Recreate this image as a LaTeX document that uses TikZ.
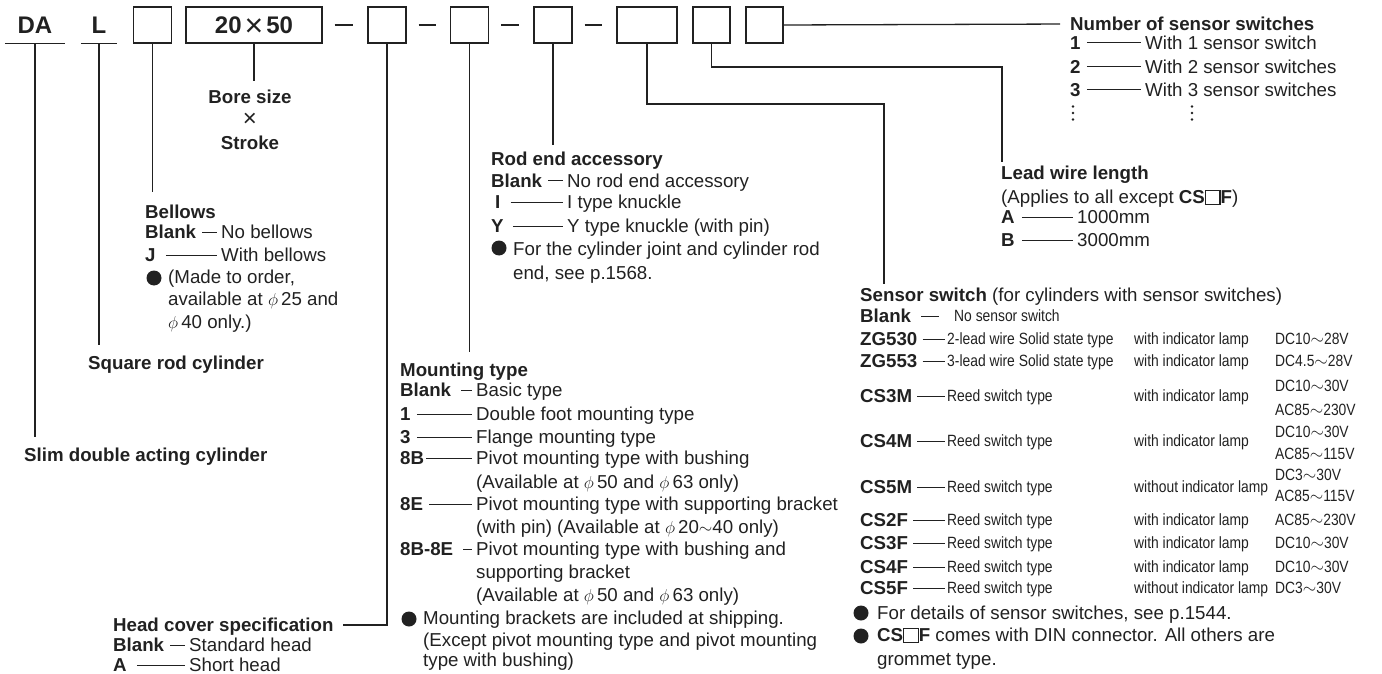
\documentclass[tikz,border=0pt]{standalone}
\usepackage{fontspec}
\setmainfont{Liberation Sans}
\newfontfamily\condfont[FakeStretch=0.85]{Liberation Sans}

\definecolor{ink}{gray}{0.13}
\newcommand\bodysize{\fontsize{18.7}{22.5}\selectfont}
\newcommand\condsize{\fontsize{16.3}{19}\selectfont\condfont}
\newcommand\keysize{\fontsize{24}{28}\selectfont}
\newcommand\dia[1]{$\phi$\,#1}
\newcommand\emptysq{{\setlength\fboxsep{0pt}\setlength\fboxrule{1.1pt}\fbox{\rule{0pt}{0.7em}\hspace{0.72em}}}}

\begin{document}
\begin{tikzpicture}[x=1pt, y=-1pt,
    every node/.style={inner sep=0pt, text=ink},
    lbl/.style={anchor=west, text height=13.4pt, text depth=0pt, font=\bodysize},
    code/.style={lbl, font=\bodysize\bfseries},
    cond/.style={lbl, text height=11.7pt, font=\condsize},
    mid/.style={lbl, anchor=center},
    word/.style={font=\keysize\bfseries, minimum height=36pt},
    slot/.style={draw=ink, line width=1.3pt, minimum width=38pt,
                 minimum height=36pt, font=\keysize\bfseries},
    lead/.style={draw=ink, line width=1.3pt},
    tie/.style={draw=ink, line width=1pt, shorten <=6pt, shorten >=4pt},
    bullet/.style={circle, fill=ink, minimum size=15pt}
  ]
  \useasboundingbox (0,0) rectangle (1382,674);

  % part number
  \node[word, minimum width=60pt] (da) at (35,25) {DA};
  \node[word, minimum width=36pt] (l) at (99,25) {L};
  \node[slot] (bellowsbox) at (152.5,25) {};
  \node[slot, minimum width=136pt] (bore) at (254,25) {20\kern3pt\raisebox{-3pt}[0pt][0pt]{\mdseries\fontsize{32}{32}\selectfont ×}\kern3pt50};
  \node[slot] (headbox) at (387,25) {};
  \node[slot] (mountbox) at (469.5,25) {};
  \node[slot] (rodbox) at (553,25) {};
  \node[slot, minimum width=60pt] (sensorbox) at (647,25) {};
  \node[slot, minimum width=37pt] (wirebox) at (711.5,25) {};
  \node[slot, minimum width=37pt] (countbox) at (764.5,25) {};

  \draw[lead] (da.south west) -- (da.south east);
  \draw[lead] (l.south west) -- (l.south east);
  \draw[lead, line width=1.1pt, shorten <=12pt, shorten >=14pt] (bore.east) -- (headbox.west);
  \draw[lead, line width=1.1pt, shorten <=12pt, shorten >=14pt] (headbox.east) -- (mountbox.west);
  \draw[lead, line width=1.1pt, shorten <=12pt, shorten >=14pt] (mountbox.east) -- (rodbox.west);
  \draw[lead, line width=1.1pt, shorten <=12pt, shorten >=14pt] (rodbox.east) -- (sensorbox.west);

  % bore x stroke
  \node[mid, font=\bodysize\bfseries] (boresize) at (250,97) {Bore size};
  \node[mid, font=\keysize] (times) at (250,120) {×};
  \node[mid, font=\bodysize\bfseries] (stroke) at (250,143) {Stroke};

  \node[code] (slim) at (24,455) {Slim double acting cylinder};
  \node[code] (sqrod) at (88,363) {Square rod cylinder};

  % bellows
  \node[code] (bellows) at (145,212) {Bellows};
  \node[code] (bellblank) at (145,232) {Blank};
  \node[lbl] (bellno) at (221,232) {No bellows};
  \node[code] (bellj) at (145,255) {J};
  \node[lbl] (bellwith) at (221,255) {With bellows};
  \node[bullet] (bellnote) at (154,278) {};
  \node[lbl] (bellnote1) at (168,277) {(Made to order,};
  \node[lbl] (bellnote2) at (168,299) {available at \dia{25} and};
  \node[lbl] (bellnote3) at (168,322) {\dia{40} only.)};
  \draw[tie] (bellblank.east) -- (bellno.west);
  \draw[tie, shorten <=10pt] (bellj.east) -- (bellwith.west);

  % rod end
  \node[code] (rodend) at (491,159) {Rod end accessory};
  \node[code] (rodblank) at (491,181) {Blank};
  \node[lbl] (rodno) at (567,181) {No rod end accessory};
  \node[code] (rodi) at (495,202) {I};
  \node[lbl] (rodit) at (567,202) {I type knuckle};
  \node[code] (rody) at (491,226) {Y};
  \node[lbl] (rodyt) at (567,226) {Y type knuckle (with pin)};
  \node[bullet] (rodnote) at (499,248) {};
  \node[lbl] (rodnote1) at (513,249) {For the cylinder joint and cylinder rod};
  \node[lbl] (rodnote2) at (513,273) {end, see p.1568.};
  \draw[tie] (rodblank.east) -- (rodno.west);
  \draw[tie, shorten <=10pt] (rodi.east) -- (rodit.west);
  \draw[tie, shorten <=9pt] (rody.east) -- (rodyt.west);

  % mounting
  \node[code] (mount) at (400,370) {Mounting type};
  \node[code] (mblank) at (400,390) {Blank};
  \node[lbl] (mbasic) at (476,390) {Basic type};
  \node[code] (m1) at (400,414) {1};
  \node[lbl] (mfoot) at (476,414) {Double foot mounting type};
  \node[code] (m3) at (400,437) {3};
  \node[lbl] (mflange) at (476,437) {Flange mounting type};
  \node[code] (m8b) at (400,458) {8B};
  \node[lbl] (mpivb) at (476,458) {Pivot mounting type with bushing};
  \node[lbl] (mpivb2) at (476,482) {(Available at \dia{50} and \dia{63} only)};
  \node[code] (m8e) at (400,504) {8E};
  \node[lbl] (mpive) at (476,504) {Pivot mounting type with supporting bracket};
  \node[lbl] (mpive2) at (476,527) {(with pin) (Available at \dia{20}$\sim$40 only)};
  \node[code] (m8be) at (400,549) {8B-8E};
  \node[lbl] (mpivbe) at (476,549) {Pivot mounting type with bushing and};
  \node[lbl] (mpivbe2) at (476,572) {supporting bracket};
  \node[lbl] (mpivbe3) at (476,595) {(Available at \dia{50} and \dia{63} only)};
  \node[bullet] (mnote) at (409,619) {};
  \node[lbl] (mnote1) at (423,618) {Mounting brackets are included at shipping.};
  \node[lbl] (mnote2) at (423,640) {(Except pivot mounting type and pivot mounting};
  \node[lbl] (mnote3) at (423,660) {type with bushing)};
  \draw[tie, shorten <=10pt] (mblank.east) -- (mbasic.west);
  \draw[tie] (m1.east) -- (mfoot.west);
  \draw[tie] (m3.east) -- (mflange.west);
  \draw[tie, shorten <=2pt] (m8b.east) -- (mpivb.west);
  \draw[tie] (m8e.east) -- (mpive.west);
  \draw[tie, shorten <=10pt] (m8be.east) -- (mpivbe.west);

  % head cover
  \node[code] (headcover) at (113,625) {Head cover specification};
  \node[code] (headblank) at (113,645) {Blank};
  \node[lbl] (headstd) at (189,645) {Standard head};
  \node[code] (heada) at (113,665) {A};
  \node[lbl] (headshort) at (189,665) {Short head};
  \draw[tie] (headblank.east) -- (headstd.west);
  \draw[tie, shorten <=10pt] (heada.east) -- (headshort.west);

  % sensor switch
  \node[lbl] (sensor) at (860,295) {\textbf{Sensor switch} (for cylinders with sensor switches)};
  \node[code] (sblank) at (860,316) {Blank};
  \node[cond] (snone) at (954,316) {No sensor switch};
  \node[code] (zg530) at (860,339) {ZG530};
  \node[cond] (zg530t) at (947,339) {2-lead wire Solid state type};
  \node[cond] (zg530l) at (1134,339) {with indicator lamp};
  \node[cond] (zg530v) at (1275,339) {DC10$\sim$28V};
  \node[code] (zg553) at (860,361) {ZG553};
  \node[cond] (zg553t) at (947,361) {3-lead wire Solid state type};
  \node[cond] (zg553l) at (1134,361) {with indicator lamp};
  \node[cond] (zg553v) at (1275,361) {DC4.5$\sim$28V};
  \node[code] (cs3m) at (860,396) {CS3M};
  \node[cond] (cs3mt) at (947,396) {Reed switch type};
  \node[cond] (cs3ml) at (1134,396) {with indicator lamp};
  \node[cond] (cs3mv) at (1275,386) {DC10$\sim$30V};
  \node[cond] (cs3mv2) at (1275,410) {AC85$\sim$230V};
  \node[code] (cs4m) at (860,441) {CS4M};
  \node[cond] (cs4mt) at (947,441) {Reed switch type};
  \node[cond] (cs4ml) at (1134,441) {with indicator lamp};
  \node[cond] (cs4mv) at (1275,432) {DC10$\sim$30V};
  \node[cond] (cs4mv2) at (1275,454) {AC85$\sim$115V};
  \node[code] (cs5m) at (860,487) {CS5M};
  \node[cond] (cs5mt) at (947,487) {Reed switch type};
  \node[cond] (cs5ml) at (1134,487) {without indicator lamp};
  \node[cond] (cs5mv) at (1275,475) {DC3$\sim$30V};
  \node[cond] (cs5mv2) at (1275,496) {AC85$\sim$115V};
  \node[code] (cs2f) at (860,520) {CS2F};
  \node[cond] (cs2ft) at (947,520) {Reed switch type};
  \node[cond] (cs2fl) at (1134,520) {with indicator lamp};
  \node[cond] (cs2fv) at (1275,520) {AC85$\sim$230V};
  \node[code] (cs3f) at (860,543) {CS3F};
  \node[cond] (cs3ft) at (947,543) {Reed switch type};
  \node[cond] (cs3fl) at (1134,543) {with indicator lamp};
  \node[cond] (cs3fv) at (1275,543) {DC10$\sim$30V};
  \node[code] (cs4f) at (860,567) {CS4F};
  \node[cond] (cs4ft) at (947,567) {Reed switch type};
  \node[cond] (cs4fl) at (1134,567) {with indicator lamp};
  \node[cond] (cs4fv) at (1275,567) {DC10$\sim$30V};
  \node[code] (cs5f) at (860,588) {CS5F};
  \node[cond] (cs5ft) at (947,588) {Reed switch type};
  \node[cond] (cs5fl) at (1134,588) {without indicator lamp};
  \node[cond] (cs5fv) at (1275,588) {DC3$\sim$30V};
  \node[bullet] (snote) at (861,613) {};
  \node[lbl] (snote1) at (877,613) {For details of sensor switches, see p.1544.};
  \node[bullet] (sdin) at (861,636) {};
  \node[lbl] (sdin1) at (877,635) {\textbf{CS\emptysq F} comes with DIN connector. All others are};
  \node[lbl] (sdin2) at (877,659) {grommet type.};
  \draw[tie, shorten <=10pt, shorten >=15pt] (sblank.east) -- (snone.west);
  \draw[tie, shorten <=5pt, shorten >=2pt] (zg530.east) -- (zg530t.west);
  \draw[tie, shorten <=5pt, shorten >=2pt] (zg553.east) -- (zg553t.west);
  \draw[tie, shorten <=5pt, shorten >=2pt] (cs3m.east) -- (cs3mt.west);
  \draw[tie, shorten <=5pt, shorten >=2pt] (cs4m.east) -- (cs4mt.west);
  \draw[tie, shorten <=5pt, shorten >=2pt] (cs5m.east) -- (cs5mt.west);
  \draw[tie, shorten <=5pt, shorten >=2pt] (cs2f.east) -- (cs2ft.west);
  \draw[tie, shorten <=5pt, shorten >=2pt] (cs3f.east) -- (cs3ft.west);
  \draw[tie, shorten <=5pt, shorten >=2pt] (cs4f.east) -- (cs4ft.west);
  \draw[tie, shorten <=5pt, shorten >=2pt] (cs5f.east) -- (cs5ft.west);

  % lead wire
  \node[code] (wire) at (1001,173) {Lead wire length};
  \node[lbl] (wirenote) at (1001,197) {(Applies to all except \textbf{CS\emptysq F})};
  \node[code] (wirea) at (1001,217) {A};
  \node[lbl] (wire1000) at (1077,217) {1000mm};
  \node[code] (wireb) at (1001,240) {B};
  \node[lbl] (wire3000) at (1077,240) {3000mm};
  \draw[tie, shorten <=7pt] (wirea.east) -- (wire1000.west);
  \draw[tie, shorten <=7pt] (wireb.east) -- (wire3000.west);

  % number of switches
  \node[code] (count) at (1070,24) {Number of sensor switches};
  \node[code] (count1) at (1070,43) {1};
  \node[lbl] (count1t) at (1145,43) {With 1 sensor switch};
  \node[code] (count2) at (1070,67) {2};
  \node[lbl] (count2t) at (1145,67) {With 2 sensor switches};
  \node[code] (count3) at (1070,90) {3};
  \node[lbl] (count3t) at (1145,90) {With 3 sensor switches};
  \draw[tie] (count1.east) -- (count1t.west);
  \draw[tie] (count2.east) -- (count2t.west);
  \draw[tie] (count3.east) -- (count3t.west);
  \coordinate (countdots) at (1073,113);
  \coordinate (countdotst) at (1192,113);
  \foreach \d in {-6.5,0,6.5} {
    \fill[ink] ([yshift=\d pt]countdots) circle (1.4pt);
    \fill[ink] ([yshift=\d pt]countdotst) circle (1.4pt);
  }

  % connectors
  \draw[lead, shorten >=11pt] (da.south) -- (da.south |- slim.north);
  \draw[lead, shorten >=11pt] (l.south) -- (l.south |- sqrod.north);
  \draw[lead, shorten >=13pt] (bellowsbox.south) -- (bellowsbox.south |- bellows.north);
  \draw[lead, shorten >=9pt] (bore.south) -- (bore.south |- boresize.north);
  \draw[lead, shorten >=9pt] (headbox.south) |- (headcover.east);
  \draw[lead, shorten >=11pt] (mountbox.south) -- (mountbox.south |- mount.north);
  \draw[lead, shorten >=7pt] (rodbox.south) -- (rodbox.south |- rodend.north);
  \coordinate (sensortap) at (884,104);
  \draw[lead, shorten >=4pt] (sensorbox.south) |- (sensortap) -- (sensortap |- sensor.north);
  \coordinate (wiretap) at (1002,67);
  \draw[lead, shorten >=4pt] (wirebox.south) |- (wiretap) -- (wiretap |- wire.north);
  \draw[lead, shorten >=10pt] (countbox.east) -- (count.west);
\end{tikzpicture}
\end{document}
